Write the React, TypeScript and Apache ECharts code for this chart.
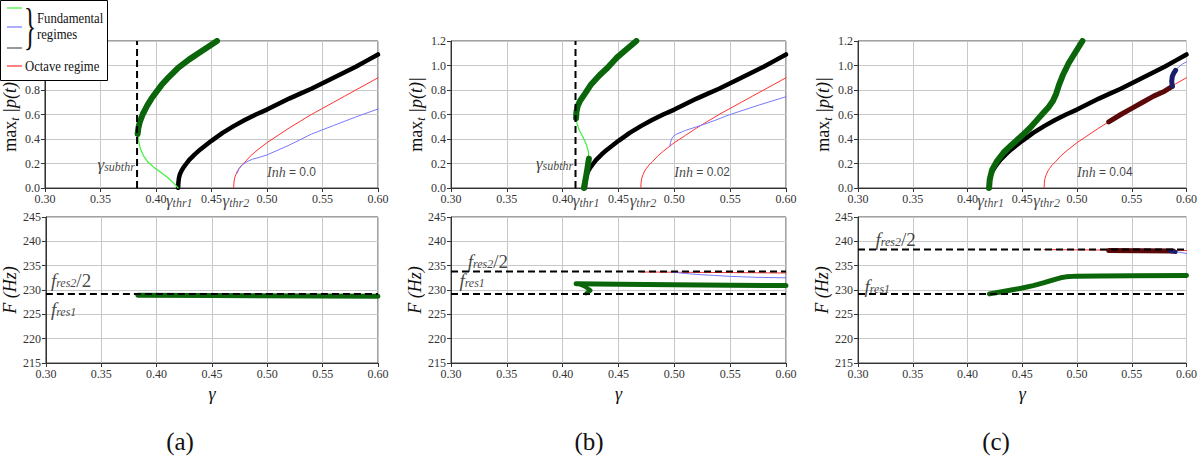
import React, { useEffect, useRef } from "react";
import * as echarts from "echarts";

// ---------- data ----------
const xTicks = [0.3, 0.35, 0.4, 0.45, 0.5, 0.55, 0.6];
const panelNames = ["(a)", "(b)", "(c)"];
const inhLabels = ["0.0", "0.02", "0.04"];
const subthr = [0.383, 0.4115];

const blackCurve = [[0.42,0],[0.4202,0.04],[0.4207,0.08],[0.4215,0.11],[0.423,0.14],[0.425,0.17],[0.4275,0.2],[0.43,0.23],[0.435,0.275],[0.44,0.315],[0.45,0.385],[0.46,0.45],[0.47,0.505],[0.48,0.555],[0.49,0.6],[0.5,0.64],[0.51,0.685],[0.52,0.73],[0.53,0.77],[0.54,0.81],[0.55,0.855],[0.56,0.9],[0.57,0.945],[0.58,0.99],[0.59,1.04],[0.6,1.09]];
const redCurve = [[0.47,0],[0.4702,0.04],[0.4708,0.08],[0.472,0.11],[0.4735,0.14],[0.475,0.16],[0.4775,0.19],[0.48,0.21],[0.485,0.26],[0.49,0.3],[0.5,0.37],[0.51,0.43],[0.52,0.49],[0.53,0.545],[0.54,0.6],[0.55,0.65],[0.56,0.7],[0.57,0.75],[0.58,0.8],[0.59,0.85],[0.6,0.9]];

const aDarkGreen = [[0.3835,0.44],[0.3842,0.49],[0.3855,0.54],[0.388,0.6],[0.392,0.67],[0.396,0.73],[0.4,0.78],[0.405,0.84],[0.41,0.89],[0.42,0.98],[0.43,1.05],[0.44,1.11],[0.455,1.2]];
const aLightGreen = [[0.3835,0.44],[0.3845,0.38],[0.386,0.32],[0.389,0.26],[0.393,0.21],[0.398,0.17],[0.404,0.13],[0.41,0.09],[0.416,0.04],[0.42,0]];
const aBlue = [[0.473,0.12],[0.475,0.16],[0.478,0.19],[0.482,0.215],[0.487,0.235],[0.493,0.25],[0.5,0.27],[0.51,0.31],[0.52,0.35],[0.54,0.44],[0.56,0.51],[0.58,0.58],[0.6,0.645]];

const bDarkGreenUpper = [[0.412,0.57],[0.4123,0.62],[0.4135,0.67],[0.4155,0.71],[0.42,0.77],[0.425,0.84],[0.433,0.92],[0.44,0.98],[0.448,1.06],[0.457,1.13],[0.466,1.2]];
const bLightGreen = [[0.412,0.57],[0.413,0.52],[0.415,0.47],[0.418,0.42],[0.421,0.36],[0.423,0.3],[0.4235,0.24]];
const bDarkGreenLower = [[0.4235,0.24],[0.422,0.15],[0.4205,0.07],[0.419,0]];
const bBlue = [[0.496,0.34],[0.4965,0.37],[0.4975,0.4],[0.499,0.42],[0.502,0.44],[0.506,0.455],[0.51,0.47],[0.52,0.5],[0.53,0.53],[0.55,0.6],[0.575,0.675],[0.6,0.745]];

const cDarkGreen = [[0.4197,0],[0.4203,0.07],[0.4225,0.15],[0.427,0.22],[0.433,0.29],[0.44,0.35],[0.45,0.43],[0.457,0.49],[0.463,0.55],[0.469,0.61],[0.474,0.66],[0.478,0.71],[0.481,0.77],[0.4835,0.84],[0.487,0.92],[0.4925,1.02],[0.498,1.1],[0.505,1.2]];
const cDarkRed = [[0.529,0.54],[0.54,0.6],[0.55,0.65],[0.56,0.7],[0.57,0.75],[0.58,0.79],[0.587,0.83]];
const cNavy = [[0.587,0.83],[0.5865,0.87],[0.587,0.91],[0.5885,0.94],[0.59,0.96]];
const cBlue = [[0.59,0.96],[0.593,0.99],[0.596,1.01],[0.6,1.03]];

const fres1 = 229.2;
const fres2half = [229.2, 233.8, 238.3];
const aFGreen = [[0.383,228.9],[0.45,228.85],[0.6,228.7]];
const aFRed = [[0.47,229.05],[0.6,229.0]];
const aFBlue = [[0.473,229.05],[0.6,229.0]];
const bFGreen = [[0.412,231.3],[0.45,231.2],[0.5,231.1],[0.55,231.0],[0.6,230.9]];
const bFHook = [[0.415,231.2],[0.42,230.7],[0.425,229.9],[0.421,229.3]];
const bFRed = [[0.47,233.7],[0.6,233.5]];
const bFBlue = [[0.497,233.7],[0.51,233.4],[0.52,233.2],[0.535,233.0],[0.55,232.8],[0.575,232.6],[0.6,232.5]];
const cFGreen = [[0.42,229.2],[0.43,229.6],[0.44,230.0],[0.45,230.4],[0.46,230.9],[0.47,231.5],[0.48,232.2],[0.485,232.5],[0.49,232.7],[0.5,232.85],[0.52,232.9],[0.55,232.95],[0.6,233.0]];
const cFRed = [[0.47,238.3],[0.6,238.1]];
const cFDarkRed = [[0.529,238.1],[0.588,238.0]];
const cFNavy = [[0.585,238.0],[0.59,237.8]];
const cFBlue = [[0.59,237.9],[0.6,237.5]];

// annotation anchors (data coords)
const thrLabels = [{ x: 0.409, y: -0.1, t: "thr1" }, { x: 0.46, y: -0.1, t: "thr2" }];
const subthrLabelPos = [[0.381, 0.19], [0.4095, 0.2]];
const inhPos = [0.5, 0.13];
const fresLabelPos = [
  { f2: [0.3045, 232.05], f1: [0.3045, 225.9] },
  { f2: [0.315, 235.8], f1: [0.3075, 232.05] },
  { f2: [0.316, 240.4], f1: [0.306, 230.8] },
];

// ---------- styles ----------
const C = {
  dg: "#0b660b",
  lg: "#3cf03c",
  blue: "#7878ff",
  red: "#ff3030",
  dred: "#5a0808",
  navy: "#1c1c6e",
};
const SERIF = "Liberation Serif";
const SANS = "Liberation Sans";
const rich = {
  g: { fontFamily: SERIF, fontStyle: "italic", fontSize: 17, color: "#111" },
  s: { fontFamily: SERIF, fontStyle: "italic", fontSize: 12, color: "#111", padding: [5, 0, 0, 0] },
  f: { fontFamily: SERIF, fontStyle: "italic", fontSize: 19, color: "#111" },
  fr: { fontFamily: SERIF, fontSize: 19, color: "#111" },
  i: { fontFamily: SERIF, fontStyle: "italic", fontSize: 14, color: "#111" },
  n: { fontFamily: SANS, fontSize: 12, color: "#111" },
};

const cols = [
  { left: 44, width: 334 },
  { left: 451, width: 335 },
  { left: 858, width: 335 },
];
const rows = [
  { top: 41, height: 147 },
  { top: 217, height: 146 },
];

function line(g: number, data: number[][], color: string, width: number, z = 2, dashed = false) {
  return {
    type: "line",
    xAxisIndex: g,
    yAxisIndex: g,
    data,
    symbol: "none",
    showSymbol: false,
    smooth: false,
    silent: true,
    z,
    lineStyle: { color, width, type: dashed ? [7, 4] : "solid", cap: dashed ? "butt" : "round", join: "round" },
  };
}

function labels(g: number, items: { pos: number[]; text: string; align?: string }[]) {
  return {
    type: "scatter",
    xAxisIndex: g,
    yAxisIndex: g,
    clip: false,
    symbolSize: 1,
    silent: true,
    z: 20,
    itemStyle: { color: "rgba(0,0,0,0)" },
    data: items.map((it) => ({
      value: it.pos,
      label: {
        show: true,
        position: "inside",
        align: it.align || "left",
        verticalAlign: "middle",
        formatter: it.text,
        rich,
      },
    })),
  };
}

function buildOption() {
  const grid: any[] = [];
  const xAxis: any[] = [];
  const yAxis: any[] = [];
  const axisCommon = {
    axisLine: { show: true, lineStyle: { color: "#333", width: 1 } },
    axisTick: { show: true, inside: false, length: 4, lineStyle: { color: "#333" } },
    splitLine: { show: true, lineStyle: { color: "#c8c8c8", width: 1 } },
    axisLabel: { fontFamily: SERIF, fontSize: 12, color: "#333", margin: 5 },
  };
  for (let r = 0; r < 2; r++) {
    for (let c = 0; c < 3; c++) {
      grid.push({ ...cols[c], ...rows[r], show: true, borderColor: "#444", borderWidth: 1, backgroundColor: "transparent" });
      const gi = r * 3 + c;
      xAxis.push({
        gridIndex: gi,
        type: "value",
        min: xTicks[0],
        max: xTicks[xTicks.length - 1],
        interval: 0.05,
        ...axisCommon,
        axisLabel: { ...axisCommon.axisLabel, formatter: (v: number) => v.toFixed(2) },
        name: r === 1 ? "γ" : "",
        nameLocation: "middle",
        nameGap: 22,
        nameTextStyle: { fontFamily: SERIF, fontStyle: "italic", fontSize: 18, color: "#111" },
      });
      yAxis.push(
        r === 0
          ? {
              gridIndex: gi,
              type: "value",
              min: 0,
              max: 1.2,
              interval: 0.2,
              ...axisCommon,
              axisLabel: { ...axisCommon.axisLabel, formatter: (v: number) => v.toFixed(1) },
              name: "{m|max}{t|t}{p| |p(t)|}",
              nameLocation: "middle",
              nameGap: 16,
              nameTextStyle: {
                rich: {
                  m: { fontFamily: SERIF, fontSize: 18, color: "#111" },
                  t: { fontFamily: SERIF, fontStyle: "italic", fontSize: 12, color: "#111", padding: [10, 0, 0, 0] },
                  p: { fontFamily: SERIF, fontStyle: "italic", fontSize: 18, color: "#111" },
                },
              },
            }
          : {
              gridIndex: gi,
              type: "value",
              min: 215,
              max: 245,
              interval: 5,
              ...axisCommon,
              name: "F (Hz)",
              nameLocation: "middle",
              nameGap: 18,
              nameTextStyle: { fontFamily: SERIF, fontStyle: "italic", fontSize: 18, color: "#111" },
            }
      );
    }
  }

  const series: any[] = [];
  // ---- top panels ----
  // (a)
  series.push(line(0, blackCurve, "#000", 4.5, 3));
  series.push(line(0, redCurve, C.red, 1, 2));
  series.push(line(0, aBlue, C.blue, 1, 2));
  series.push(line(0, aLightGreen, C.lg, 1.2, 3));
  series.push(line(0, aDarkGreen, C.dg, 6, 4));
  series.push(line(0, [[subthr[0], 0], [subthr[0], 1.2]], "#000", 2, 5, true));
  // (b)
  series.push(line(1, blackCurve, "#000", 4.5, 3));
  series.push(line(1, redCurve, C.red, 1, 2));
  series.push(line(1, bBlue, C.blue, 1, 2));
  series.push(line(1, bLightGreen, C.lg, 1.2, 3));
  series.push(line(1, bDarkGreenUpper, C.dg, 6, 4));
  series.push(line(1, bDarkGreenLower, C.dg, 6, 4));
  series.push(line(1, [[subthr[1], 0], [subthr[1], 1.2]], "#000", 2, 5, true));
  // (c)
  series.push(line(2, blackCurve, "#000", 4.5, 3));
  series.push(line(2, redCurve, C.red, 1, 2));
  series.push(line(2, cBlue, C.blue, 1, 2));
  series.push(line(2, cDarkRed, C.dred, 5, 4));
  series.push(line(2, cNavy, C.navy, 5, 4));
  series.push(line(2, cDarkGreen, C.dg, 6, 4));

  // ---- bottom panels ----
  series.push(line(3, aFRed, C.red, 1, 2));
  series.push(line(3, aFBlue, C.blue, 1, 2));
  series.push(line(3, aFGreen, C.dg, 5, 3));
  series.push(line(3, [[0.3, fres2half[0]], [0.6, fres2half[0]]], "#000", 2, 5, true));

  series.push(line(4, bFRed, C.red, 1, 2));
  series.push(line(4, bFBlue, C.blue, 1, 2));
  series.push(line(4, bFGreen, C.dg, 5, 3));
  series.push(line(4, bFHook, C.dg, 4, 3));
  series.push(line(4, [[0.3, fres2half[1]], [0.6, fres2half[1]]], "#000", 2, 5, true));
  series.push(line(4, [[0.3, fres1], [0.6, fres1]], "#000", 2, 5, true));

  series.push(line(5, cFRed, C.red, 1, 2));
  series.push(line(5, cFBlue, C.blue, 1, 2));
  series.push(line(5, cFDarkRed, C.dred, 5, 3));
  series.push(line(5, cFNavy, C.navy, 4, 3));
  series.push(line(5, cFGreen, C.dg, 5, 3));
  series.push(line(5, [[0.3, fres2half[2]], [0.6, fres2half[2]]], "#000", 2, 5, true));
  series.push(line(5, [[0.3, fres1], [0.6, fres1]], "#000", 2, 5, true));

  // ---- annotations ----
  for (let c = 0; c < 3; c++) {
    const items: any[] = thrLabels.map((t) => ({ pos: [t.x, t.y], text: `{g|γ}{s|${t.t}}` }));
    if (c < 2) items.push({ pos: subthrLabelPos[c], text: "{g|γ}{s|subthr}", align: "right" });
    items.push({ pos: inhPos, text: `{i|Inh}{n| = ${inhLabels[c]}}` });
    series.push(labels(c, items));
    const fp = fresLabelPos[c];
    series.push(
      labels(3 + c, [
        { pos: fp.f2, text: "{f|f}{s|res2}{fr|/2}" },
        { pos: fp.f1, text: "{f|f}{s|res1}" },
      ])
    );
  }

  // ---- legend & panel captions ----
  const legendLines = [
    { y: 8, color: C.lg },
    { y: 27, color: C.blue },
    { y: 48, color: "#555" },
    { y: 66, color: C.red },
  ];
  const legendText = (text: string, x: number, y: number) => ({
    type: "text",
    z: 101,
    x,
    y,
    scaleX: 0.82,
    style: { text, fontFamily: SERIF, fontSize: 15.5, fill: "#111", verticalAlign: "middle" },
  });
  const graphic: any[] = [
    {
      type: "rect",
      z: 100,
      shape: { x: 0.5, y: 0.5, width: 107, height: 80 },
      style: { fill: "#fff", stroke: "#000", lineWidth: 1 },
    },
    ...legendLines.map((l) => ({
      type: "line",
      z: 101,
      shape: { x1: 7, y1: l.y, x2: 22, y2: l.y },
      style: { stroke: l.color, lineWidth: 1.2 },
    })),
    {
      type: "text",
      z: 101,
      x: 30,
      y: 27,
      scaleX: 0.5,
      style: { text: "}", fontFamily: SERIF, fontSize: 50, fill: "#111", align: "center", verticalAlign: "middle" },
    },
    legendText("Fundamental", 37, 18),
    legendText("regimes", 37, 34),
    legendText("Octave regime", 25, 66),
    ...panelNames.map((p, i) => ({
      type: "text",
      z: 101,
      x: [180, 589, 996][i],
      y: 441,
      style: { text: p, fontFamily: SERIF, fontSize: 25, fill: "#111", align: "center", verticalAlign: "middle" },
    })),
  ];

  return { animation: false, backgroundColor: "#fff", grid, xAxis, yAxis, series, graphic };
}

export default function App() {
  const ref = useRef<HTMLDivElement>(null);
  useEffect(() => {
    document.body.style.margin = "0";
    if (!ref.current) return;
    const chart = echarts.init(ref.current, null, { renderer: "svg" });
    chart.setOption(buildOption() as any);
    return () => chart.dispose();
  }, []);
  return <div ref={ref} style={{ width: 1200, height: 457 }} />;
}
